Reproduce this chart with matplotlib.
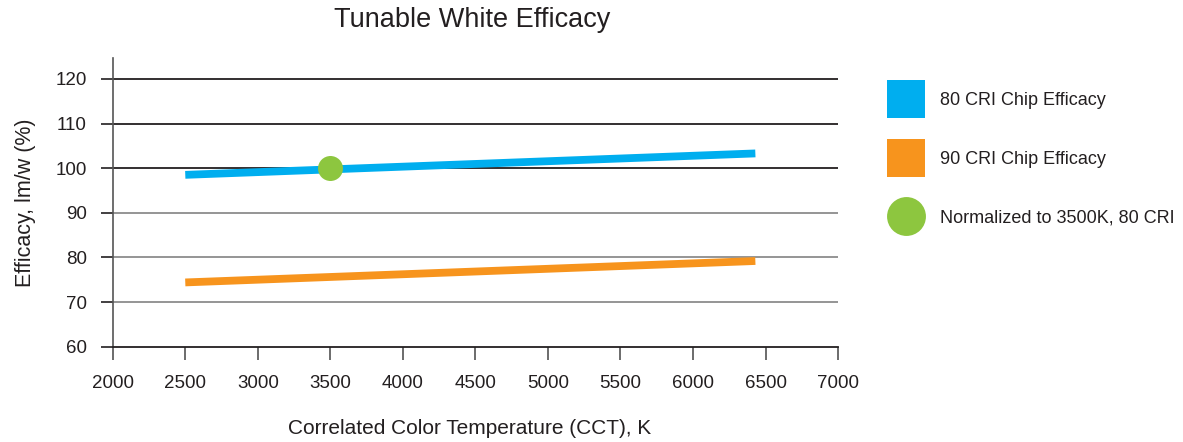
import matplotlib
matplotlib.use("Agg")
import matplotlib.pyplot as plt
from matplotlib.lines import Line2D

plt.rcParams['font.family'] = ['Liberation Sans', 'DejaVu Sans']

# Data
cct = [2500, 6430]
cri80_eff = [98.5, 103.3]
cri90_eff = [74.4, 79.2]
norm_cct = [3500]
norm_eff = [100]

x_ticks = [2000, 2500, 3000, 3500, 4000, 4500, 5000, 5500, 6000, 6500, 7000]
y_ticks = [60, 70, 80, 90, 100, 110, 120]
labels = ['80 CRI Chip Efficacy', '90 CRI Chip Efficacy', 'Normalized to 3500K, 80 CRI']

blue = '#00AEEF'
orange = '#F7941D'
green = '#8DC63F'
dark = '#231F20'
gray = '#8C8C8C'

fig = plt.figure(figsize=(11.83, 4.42), dpi=100)
ax = fig.add_axes([0.0953, 0.2156, 0.6131, 0.6524])

# Grid lines (dark for the upper ones, gray for the middle ones)
for v in y_ticks[1:]:
    c = gray if v in (70, 80, 90) else dark
    ax.axhline(v, color=c, lw=1.3, zorder=1)

ax.plot(cct, cri80_eff, color=blue, lw=5.6, solid_capstyle='butt', zorder=3)
ax.plot(cct, cri90_eff, color=orange, lw=5.6, solid_capstyle='butt', zorder=3)
ax.plot(norm_cct, norm_eff, 'o', color=green, markersize=18, markeredgewidth=0, zorder=4)

ax.set_xlim(2000, 7000)
ax.set_ylim(60, 124.6)
ax.set_xticks(x_ticks)
ax.set_yticks(y_ticks)

for s in ['top', 'right']:
    ax.spines[s].set_visible(False)
ax.spines['left'].set_color('#555555')
ax.spines['left'].set_linewidth(1.2)
ax.spines['bottom'].set_color(dark)
ax.spines['bottom'].set_linewidth(1.3)

ax.tick_params(axis='x', direction='out', length=9.5, width=1.1, color='#444444',
               labelsize=13.5, pad=11, labelcolor='#231F20')
ax.tick_params(axis='y', direction='out', length=8.8, width=1.2, color=dark,
               labelsize=13.5, pad=10, labelcolor='#231F20')

ax.set_xlabel('Correlated Color Temperature (CCT), K', fontsize=15, color='#231F20', labelpad=19)
ax.xaxis.label.set_x(0.492)
ax.set_ylabel('Efficacy, lm/w (%)', fontsize=15.5, color='#231F20', labelpad=14)
fig.text(0.399, 0.955, 'Tunable White Efficacy', fontsize=19.5, color='#231F20',
         ha='center', va='center')

handles = [
    Line2D([], [], marker='s', linestyle='', color=blue, markersize=28, markeredgewidth=0),
    Line2D([], [], marker='s', linestyle='', color=orange, markersize=28, markeredgewidth=0),
    Line2D([], [], marker='o', linestyle='', color=green, markersize=28, markeredgewidth=0),
]
fig.legend(handles, labels, loc='upper left', bbox_to_anchor=(0.749, 0.791),
           frameon=False, fontsize=13, handlelength=2.2, handleheight=0.7,
           labelspacing=2.3, handletextpad=0.78, borderpad=0, borderaxespad=0,
           labelcolor='#231F20')

fig.savefig('out.png', dpi=100)
